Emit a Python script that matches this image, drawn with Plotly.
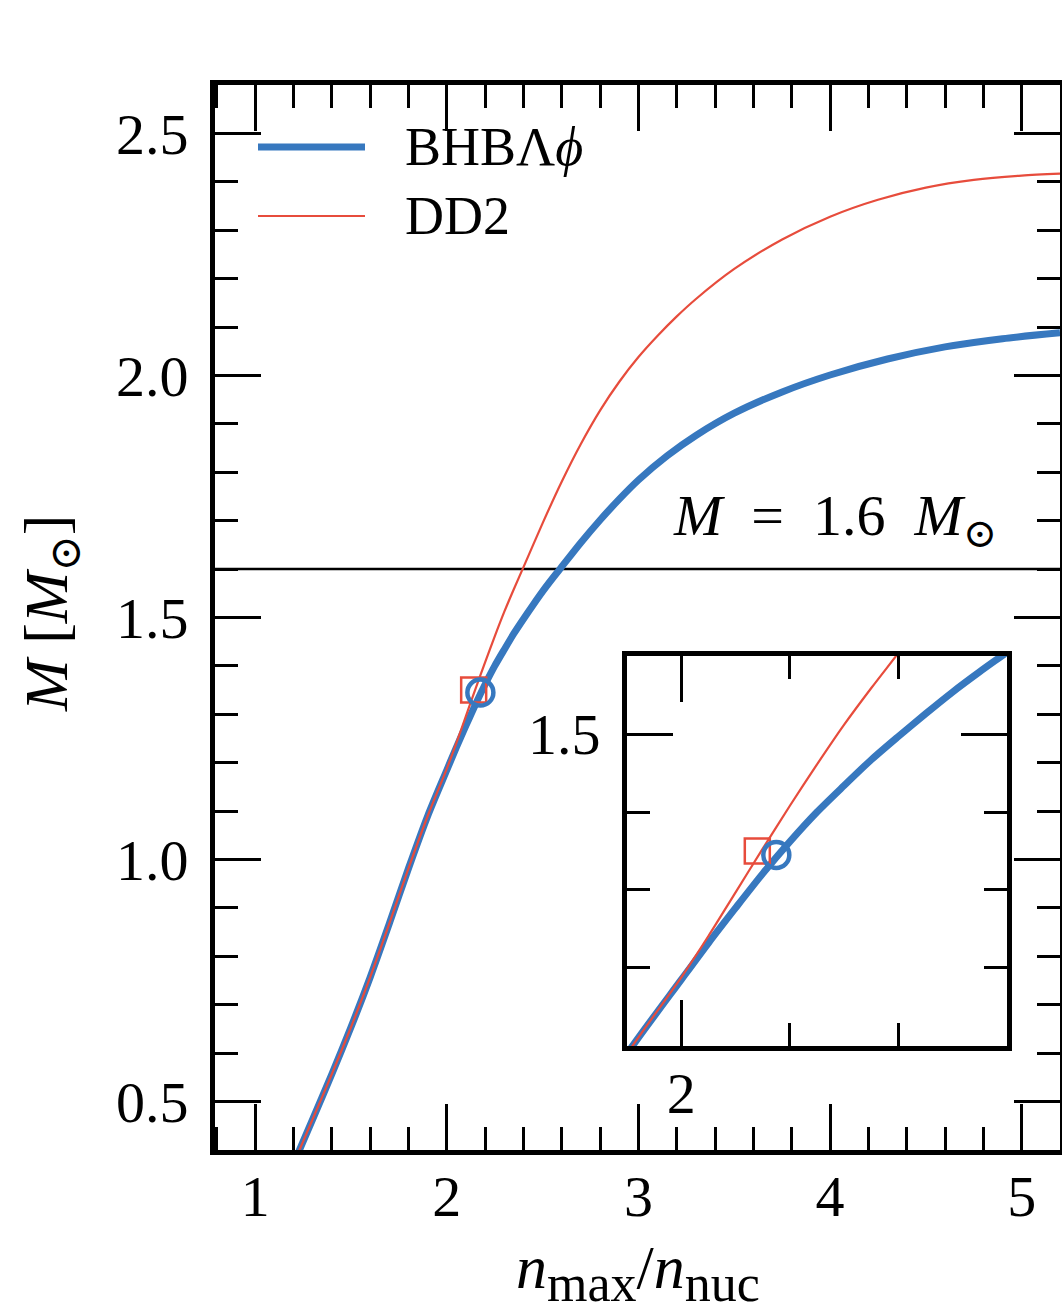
import plotly.graph_objects as go

# ---- data ----
bhb_x = [1.22, 1.30, 1.40, 1.50, 1.60, 1.70, 1.80, 1.90, 2.00, 2.05, 2.10, 2.15, 2.20, 2.25,
         2.30, 2.35, 2.40, 2.45, 2.50, 2.55, 2.59, 2.70, 2.80, 2.90, 3.00, 3.15, 3.30, 3.50,
         3.75, 4.00, 4.30, 4.60, 4.90, 5.20]
bhb_y = [0.390, 0.464, 0.557, 0.654, 0.757, 0.868, 0.982, 1.090, 1.185, 1.232, 1.277, 1.321,
         1.362, 1.400, 1.434, 1.467, 1.497, 1.526, 1.554, 1.580, 1.600, 1.655, 1.7015, 1.7445,
         1.784, 1.834, 1.876, 1.922, 1.966, 2.001, 2.034, 2.059, 2.076, 2.088]

dd2_x = [1.22, 1.30, 1.40, 1.50, 1.60, 1.70, 1.80, 1.90, 2.00, 2.05, 2.10, 2.15, 2.20, 2.25,
         2.30, 2.35, 2.40, 2.50, 2.60, 2.70, 2.80, 2.90, 3.00, 3.10, 3.20, 3.30, 3.50, 3.75,
         4.00, 4.25, 4.50, 4.75, 5.00, 5.20]
dd2_y = [0.390, 0.464, 0.557, 0.654, 0.757, 0.868, 0.982, 1.090, 1.188, 1.241, 1.297, 1.353,
         1.408, 1.461, 1.512, 1.559, 1.604, 1.695, 1.781, 1.859, 1.928, 1.987, 2.038, 2.082,
         2.122, 2.158, 2.220, 2.281, 2.328, 2.363, 2.388, 2.404, 2.413, 2.417]

bhb_mark_x, bhb_mark_y = [2.175], [1.345]
dd2_mark_x, dd2_mark_y = [2.14], [1.35]
m_line = 1.6

blue = "#3778bf"
red = "#e74c3c"
font_family = "Liberation Serif, DejaVu Serif, serif"

W, H = 1062, 1314
PL, PT, PW, PH = 215, 85, 845, 1065

fig = go.Figure()
for xa, ya in [("x", "y"), ("x2", "y2")]:
    fig.add_trace(go.Scatter(x=bhb_x, y=bhb_y, mode="lines", name="BHBΛϕ",
                             line=dict(color=blue, width=7, shape="spline", smoothing=0.8),
                             xaxis=xa, yaxis=ya, showlegend=False))
    fig.add_trace(go.Scatter(x=dd2_x, y=dd2_y, mode="lines", name="DD2",
                             line=dict(color=red, width=2.2, shape="spline", smoothing=0.8),
                             xaxis=xa, yaxis=ya, showlegend=False))
    fig.add_trace(go.Scatter(x=dd2_mark_x, y=dd2_mark_y, mode="markers",
                             marker=dict(symbol="square-open", size=25, color=red,
                                         line=dict(width=2.5, color=red)),
                             xaxis=xa, yaxis=ya, showlegend=False))
    fig.add_trace(go.Scatter(x=bhb_mark_x, y=bhb_mark_y, mode="markers",
                             marker=dict(symbol="circle-open", size=26, color=blue,
                                         line=dict(width=4.5, color=blue)),
                             xaxis=xa, yaxis=ya, showlegend=False))

tickfont = dict(family=font_family, size=58, color="black")
common = dict(showline=True, linewidth=5, linecolor="black", mirror="ticks",
              ticks="inside", tickwidth=2.5, ticklen=46, tickcolor="black",
              showgrid=False, zeroline=False, tickfont=tickfont, automargin=False)
minor_x = dict(ticks="inside", ticklen=23, tickwidth=2.5, tickcolor="black", dtick=0.2)
minor_y = dict(ticks="inside", ticklen=23, tickwidth=2.5, tickcolor="black", dtick=0.1)

fig.update_layout(
    width=W, height=H,
    margin=dict(l=PL, r=W - PL - PW, t=PT, b=H - PT - PH),
    paper_bgcolor="white", plot_bgcolor="white",
    font=dict(family=font_family, color="black"),
    showlegend=False,
    xaxis=dict(range=[0.79, 5.2], tick0=0, dtick=1, minor=minor_x,
               ticklabelstandoff=-9, **common),
    yaxis=dict(range=[0.4, 2.6], tick0=0, dtick=0.5, tickformat=".1f", minor=minor_y,
               ticklabelstandoff=10, **common),
    xaxis2=dict(domain=[0.4876, 0.9373], anchor="y2", range=[1.9, 2.6], tick0=0, dtick=1,
                minor=minor_x, ticklabelstandoff=-8, **common),
    yaxis2=dict(domain=[0.0977, 0.4638], anchor="x2", range=[1.1, 1.6], tick0=0, dtick=0.5,
                tickformat=".1f", minor=minor_y, ticklabelstandoff=10, **common),
)

# horizontal reference line
fig.add_shape(type="line", xref="x domain", x0=0, x1=1, yref="y", y0=m_line, y1=m_line,
              line=dict(color="black", width=2.5), layer="below")
fig.add_annotation(x=4.88, y=1.703, xref="x", yref="y", xanchor="right", yanchor="middle",
                   text="<i>M</i>&nbsp; = &nbsp;1.6&nbsp; <i>M</i><sub>⊙</sub>", showarrow=False,
                   font=dict(family=font_family, size=58, color="black"))


def px_x(p):
    return (p - PL) / PW


def px_y(p):
    return (PT + PH - p) / PH


# axis titles
sub = "<sub><span style='font-size:52px'>{}</span></sub>"
fig.add_annotation(x=px_x(638), y=px_y(1272), xref="paper", yref="paper", xanchor="center",
                   yanchor="middle", showarrow=False,
                   text="<i>n</i>" + sub.format("max") + "/<i>n</i>" + sub.format("nuc"),
                   font=dict(family=font_family, size=62, color="black"))
fig.add_annotation(x=px_x(50), y=px_y(614), xref="paper", yref="paper", xanchor="center",
                   yanchor="middle", showarrow=False, textangle=-90,
                   text="<i>M</i> [<i>M</i><sub>⊙</sub>]",
                   font=dict(family=font_family, size=62, color="black"))

# legend (drawn manually to match the reference layout)
legend_items = [("BHBΛ<i>ϕ</i>", blue, 7, 147), ("DD2", red, 2.2, 216)]
for label, col, w, py in legend_items:
    fig.add_shape(type="line", xref="paper", yref="paper", x0=px_x(258), x1=px_x(365),
                  y0=px_y(py), y1=px_y(py), line=dict(color=col, width=w))
    fig.add_annotation(x=px_x(403), y=px_y(py), xref="paper", yref="paper", xanchor="left",
                       yanchor="middle", showarrow=False, text=label,
                       font=dict(family=font_family, size=54, color="black"))

fig.write_html("out.html", config={"displayModeBar": False},
               post_script="document.body.style.margin='0px';"
                           "document.body.style.overflow='hidden';")
